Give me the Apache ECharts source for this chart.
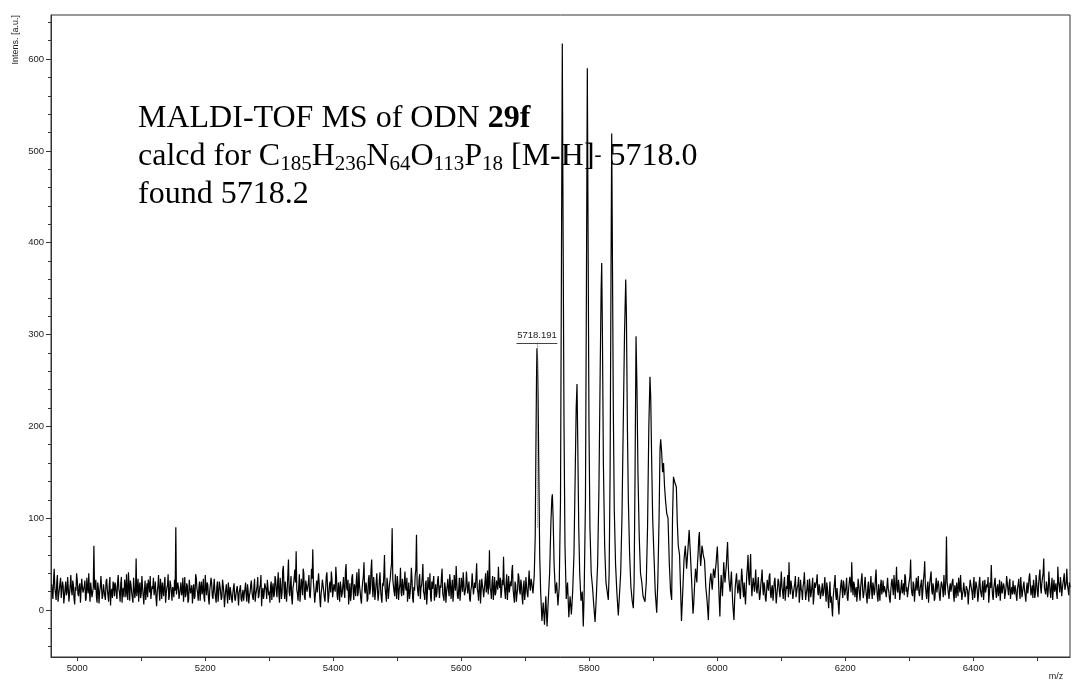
<!DOCTYPE html>
<html>
<head>
<meta charset="utf-8">
<script src="https://cdn.jsdelivr.net/npm/echarts@6/dist/echarts.min.js"></script>
<style>
  html, body { margin: 0; padding: 0; background: #fff; }
  #chart { width: 1074px; height: 681px; }
</style>
</head>
<body>
<div id="chart"></div>
<script>
// Baseline on both sides of the cluster, one sample per m/z unit
const leftStartMz = 4960;
const rightStartMz = 5962;
const sampleStep = 1;

const noiseLeft = [
  28,20, 12,33, 45,24, 18,11, 30,38, 9,17, 22,29, 35,13, 14,31, 26,7, 8,23, 31,16, 19,36, 24,9, 11,27, 38,21, 16,32, 27,12, 6,25, 21,40, 33,18, 15,26, 29,8, 10,34, 25,19,
  17,26, 32,10, 13,35, 24,18, 40,21, 9,30, 28,14, 19,24, 70,25, 22,33, 14,8, 30,24, 7,19, 25,37, 36,12, 16,28, 21,15, 11,31, 34,22, 20,9, 27,36, 5,20, 23,13, 31,27, 15,30,
  26,17, 12,30, 38,23, 19,9, 29,36, 8,21, 24,14, 33,27, 14,39, 20,11, 41,26, 10,32, 27,19, 17,8, 35,24, 13,20, 56,15, 22,34, 9,26, 30,13, 18,37, 25,16, 6,22, 32,11, 21,29,
  14,33, 28,19, 37,12, 11,26, 23,35, 16,22, 31,13, 4,20, 26,38, 19,10, 34,24, 12,30, 21,15, 29,36, 8,18, 24,27, 39,11, 15,32, 27,20, 10,25, 22,14, 33,21, 90,17, 18,30, 25,12,
  13,24, 30,16, 20,35, 9,22, 36,14, 17,29, 26,8, 11,33, 32,18, 22,27, 7,20, 28,12, 15,39, 35,23, 19,10, 24,31, 10,25, 31,17, 21,34, 14,9, 38,26, 16,30, 27,13, 6,21, 23,35,
  29,15, 12,24, 34,20, 18,8, 25,31, 9,17, 31,26, 20,11, 14,33, 27,19, 3,14, 22,28, 16,7, 30,21, 11,25, 19,13, 8,18, 24,29, 13,10, 17,23, 26,16, 5,19, 21,27, 12,9, 18,22,
  10,18, 23,30, 15,9, 28,21, 7,16, 19,27, 32,20, 14,11, 25,34, 9,17, 21,26, 36,13, 16,24, 27,38, 4,19, 24,12, 18,29, 30,22, 12,33, 35,16, 20,8, 26,31, 11,23, 29,14, 17,37,
  33,21, 14,29, 41,17, 8,35, 26,12, 19,43, 48,25, 12,31, 30,9, 22,38, 55,20, 15,27, 37,13, 6,24, 28,36, 44,30, 64,22, 18,10, 25,39, 9,19, 34,28, 16,45, 40,14, 11,32, 27,20,
  20,29, 38,16, 13,27, 45,34, 66,30, 21,8, 10,24, 32,19, 17,40, 29,12, 3,18, 24,33, 35,21, 14,9, 22,36, 41,25, 8,15, 27,31, 19,42, 33,14, 12,28, 26,20, 47,35, 16,11, 30,23,
  9,31, 25,14, 18,27, 36,20, 13,42, 50,24, 21,33, 6,17, 29,10, 16,35, 39,22, 11,28, 24,15, 32,41, 15,19, 45,26, 20,12, 7,23, 31,37, 52,21, 18,30, 26,9, 12,34, 38,17, 23,44,
  55,26, 14,36, 28,11, 19,30, 40,23, 10,18, 33,41, 22,13, 8,29, 26,38, 60,24, 17,9, 35,27, 12,21, 29,34, 44,50, 89,33, 31,20, 15,39, 24,12, 37,28, 11,22, 27,46, 19,15, 34,25,
  16,30, 42,24, 21,35, 9,19, 30,12, 18,27, 46,33, 13,8, 25,21, 38,44, 82,28, 20,15, 33,39, 12,24, 27,36, 50,20, 17,11, 29,32, 6,18, 36,26, 22,40, 14,9, 31,23, 24,37, 10,19,
  28,14, 19,32, 37,22, 13,27, 24,36, 45,18, 16,10, 30,25, 8,20, 26,34, 21,15, 39,29, 12,23, 33,9, 18,38, 27,21, 48,30, 15,12, 23,35, 10,19, 35,28, 20,41, 29,16, 14,24, 42,31,
  18,25, 31,12, 9,22, 26,40, 38,17, 15,30, 24,36, 51,23, 19,10, 28,33, 7,20, 34,27, 22,14, 13,31, 40,19, 25,43, 17,28, 65,24, 21,12, 30,37, 11,21, 36,16, 19,32, 27,22, 47,29,
  24,35, 13,20, 33,27, 58,30, 20,12, 29,39, 11,24, 37,19, 18,31, 26,42, 49,22, 15,8, 31,27, 9,17, 23,40, 36,21, 17,33, 28,14, 6,25, 32,11, 19,36, 25,18, 14,30, 43,26, 21,34
];

// [m/z, intensity] through the [M-H]- peak and its adduct series
const clusterPoints = [
  [5710, 30], [5712, 18], [5714, 38], [5715.5, 80], [5716.5, 170], [5717.5, 250],
  [5718.191, 285], [5719, 276], [5720, 230], [5721.4, 133], [5722.5, 60], [5724, 20],
  [5726, -12], [5728, 8], [5730, -16], [5732, 15], [5734, -18], [5736, 12],
  [5738, 40], [5740, 95], [5741.5, 122], [5742.3, 126], [5743.5, 100], [5745, 50],
  [5747, 18], [5749, 30], [5751, 5], [5753, 25], [5755, 120], [5756.5, 380],
  [5757.8, 617], [5759, 420], [5760.5, 200], [5762, 70], [5764, 12], [5766, 30],
  [5768, -8], [5770, 15], [5772, -5], [5774, 20], [5776, 60], [5778, 150],
  [5779.5, 220], [5780.8, 246], [5782, 180], [5783.5, 90], [5785, 40], [5787, 10],
  [5789, 20], [5790.6, -18], [5792, 20], [5794, 120], [5795.5, 350], [5796.9, 590],
  [5798, 420], [5799.5, 200], [5801, 90], [5803, 40], [5805, 25], [5807, 5],
  [5809, -13], [5811, 15], [5813, 50], [5815, 130], [5817, 260], [5818.5, 350],
  [5819.4, 378], [5820.5, 300], [5822, 160], [5824, 70], [5826, 30], [5828, 20],
  [5829.7, 11], [5831, 40], [5832.5, 150], [5834, 380], [5835, 519], [5836, 400],
  [5837.5, 220], [5839, 110], [5841, 50], [5843, 20], [5845.3, -6], [5847, 15],
  [5849, 40], [5851, 100], [5853, 200], [5855, 300], [5856.9, 360], [5858, 320],
  [5859.5, 200], [5861, 120], [5863, 60], [5865, 25], [5867, 10], [5868.8, 2],
  [5870, 30], [5871.5, 150], [5873, 298], [5874.5, 240], [5876, 150], [5878, 80],
  [5880, 40], [5882, 30], [5884, 15], [5887, 9], [5889, 30], [5891, 90],
  [5893, 200], [5894.8, 254], [5896, 230], [5897.5, 160], [5899, 100], [5901, 60],
  [5903, 20], [5905.3, -3], [5907, 30], [5909, 100], [5910.5, 175], [5911.5, 186],
  [5913, 172], [5914.5, 150], [5916, 160], [5917.5, 135], [5919, 120], [5921, 105],
  [5923, 100], [5925, 50], [5927, 20], [5928.7, 11], [5930, 100], [5931.5, 145],
  [5932.3, 147], [5934, 138], [5936, 134], [5937.5, 95], [5939, 70], [5941, 60],
  [5942.5, 25], [5944, -12], [5946, 20], [5948, 55], [5950, 70], [5952, 45],
  [5954, 65], [5956, 87], [5958, 60], [5960, 30]
];

const noiseRight = [
  -4,5, 20,34, 45,38, 30,50, 62,78, 85,60, 48,58, 70,66, 60,57, 54,40, 25,18, 10,0, -11,12, 28,35, 40,30, 22,33, 45,41, 35,44, 50,60, 69,52, 30,10, -7,20, 38,27, 15,33, 52,40,
  30,40, 48,62, 74,50, 35,27, 20,31, 42,25, 8,-2, -11,10, 25,33, 40,28, 18,24, 33,20, 12,29, 45,36, 22,14, 30,18, 6,22, 38,47, 60,35, 27,43, 61,30, 15,26, 35,28, 20,31, 44,23,
  18,27, 36,22, 11,17, 28,35, 44,24, 16,30, 25,13, 9,21, 33,26, 21,37, 40,18, 13,24, 27,10, 19,31, 35,22, 7,16, 24,34, 31,20, 14,28, 42,25, 20,12, 29,36, 10,19, 26,23, 38,14,
  52,26, 17,32, 30,21, 12,19, 24,29, 37,14, 15,25, 28,36, 8,17, 33,23, 20,11, 26,30, 41,24, 11,18, 23,33, 18,9, 34,26, 14,20, 27,35, 6,15, 30,24, 22,31, 39,19, 16,28, 25,12,
  12,22, 29,15, 19,27, 36,18, 9,30, 24,11, 2,20, 31,8, 15,3, -7,14, 22,29, 38,17, 11,24, 26,6, -5,12, 20,28, 33,21, 13,32, 27,16, 18,25, 35,13, 10,22, 24,36, 30,19, 52,27,
  16,31, 28,14, 21,25, 9,19, 34,27, 18,10, 25,33, 40,22, 13,18, 29,36, 22,15, 7,24, 31,12, 17,28, 37,21, 12,30, 26,16, 20,35, 44,24, 15,9, 28,20, 10,27, 33,17, 23,32, 19,26,
  27,19, 14,26, 35,23, 20,12, 8,21, 30,34, 24,16, 38,27, 12,30, 47,22, 19,33, 26,11, 10,25, 33,18, 22,29, 16,39, 36,20, 25,14, 13,27, 29,37, 55,24, 18,15, 31,28, 9,20, 26,35,
  21,28, 37,18, 15,24, 28,33, 11,20, 33,39, 53,27, 19,12, 26,31, 8,22, 30,36, 42,21, 17,29, 24,10, 13,26, 35,19, 20,32, 27,15, 10,23, 31,28, 22,14, 38,25, 16,34, 80,30, 25,18,
  12,25, 29,20, 18,31, 34,16, 9,27, 23,13, 30,22, 15,35, 26,19, 38,24, 11,17, 21,30, 32,14, 17,26, 27,21, 6,18, 24,33, 35,23, 19,11, 28,36, 13,20, 31,27, 22,9, 16,29, 36,22,
  20,14, 27,32, 11,22, 33,19, 18,28, 25,36, 8,17, 30,24, 49,27, 16,11, 24,30, 35,20, 13,25, 28,15, 21,33, 10,22, 31,18, 19,29, 26,12, 14,24, 37,30, 22,16, 29,34, 12,21, 25,17,
  32,22, 17,27, 23,15, 10,24, 28,34, 19,12, 36,25, 14,20, 26,31, 21,16, 9,23, 30,18, 24,35, 40,28, 16,21, 27,13, 33,26, 13,19, 38,30, 20,14, 29,37, 44,25, 18,29, 35,40, 56,24,
  22,17, 31,26, 14,21, 42,30, 19,13, 27,35, 11,24, 33,20, 24,29, 18,12, 47,31, 26,19, 36,28, 15,23, 29,34, 40,22, 20,30, 45,27, 23,16, 30,25
];

// Labelled peak
const peakLabelMz = 5718.191;
const peakMarkerTop = 291;
const peakMarkerBottom = 90;

// Axis ticks and labels
const xTickValues = [5000, 5100, 5200, 5300, 5400, 5500, 5600, 5700, 5800, 5900, 6000, 6100, 6200, 6300, 6400, 6500];
const xLabelValues = [5000, 5200, 5400, 5600, 5800, 6000, 6200, 6400];
const yTickValues = [0, 100, 200, 300, 400, 500, 600];

const spectrum = [];
noiseLeft.forEach((v, i) => spectrum.push([leftStartMz + i * sampleStep, v]));
clusterPoints.forEach(p => spectrum.push([p[0], p[1]]));
noiseRight.forEach((v, i) => spectrum.push([rightStartMz + i * sampleStep, v]));

const sansFont = '"Liberation Sans", Arial, Helvetica, sans-serif';
const serifFont = '"Liberation Serif", "Times New Roman", Times, serif';
const axisColor = '#333';
const textColor = '#222';

const chart = echarts.init(document.getElementById('chart'), null, { renderer: 'canvas' });

chart.setOption({
  animation: false,
  backgroundColor: '#fff',
  grid: {
    left: 51, right: 4, top: 15, bottom: 24,
    show: true, borderColor: axisColor, borderWidth: 1, backgroundColor: 'transparent'
  },
  xAxis: {
    type: 'value',
    min: 4959, max: 6551,
    minInterval: 100, maxInterval: 100,
    splitLine: { show: false },
    axisLine: { show: true, onZero: false, lineStyle: { color: axisColor, width: 1 } },
    axisTick: { show: true, inside: false, length: 4, customValues: xTickValues, lineStyle: { color: axisColor } },
    axisLabel: {
      customValues: xLabelValues, margin: 6,
      formatter: v => String(v),
      fontFamily: sansFont, fontSize: 9.5, color: textColor
    }
  },
  yAxis: {
    type: 'value',
    min: -51.2, max: 648,
    minInterval: 100, maxInterval: 100,
    splitLine: { show: false },
    axisLine: { show: true, onZero: false, lineStyle: { color: axisColor, width: 1 } },
    axisTick: { show: true, inside: false, length: 5, customValues: yTickValues, lineStyle: { color: axisColor } },
    minorTick: { show: true, splitNumber: 5, length: 3, lineStyle: { color: axisColor } },
    axisLabel: {
      customValues: yTickValues, margin: 7,
      formatter: v => String(v),
      fontFamily: sansFont, fontSize: 9.5, color: textColor
    }
  },
  series: [{
    type: 'line',
    data: spectrum,
    showSymbol: false,
    symbol: 'none',
    sampling: null,
    lineStyle: { color: '#000', width: 1.2 },
    z: 2,
    markLine: {
      silent: true,
      symbol: 'none',
      animation: false,
      label: { show: false },
      data: [
        [
          { coord: [peakLabelMz, peakMarkerBottom], lineStyle: { type: [1, 1], color: '#777', width: 1 } },
          { coord: [peakLabelMz, peakMarkerTop] }
        ],
        [
          {
            coord: [peakLabelMz - 32, peakMarkerTop],
            lineStyle: { type: 'solid', color: '#444', width: 1 },
            label: {
              show: true, position: 'insideMiddleTop', distance: 2,
              formatter: peakLabelMz.toFixed(3),
              fontFamily: sansFont, fontSize: 9.5, color: textColor
            }
          },
          { coord: [peakLabelMz + 32, peakMarkerTop] }
        ]
      ]
    }
  }],
  graphic: [
    {
      type: 'text', x: 16, y: 15, rotation: Math.PI / 2, silent: true,
      style: { text: 'Intens. [a.u.]', fontFamily: sansFont, fontSize: 9, fill: textColor, align: 'right', verticalAlign: 'middle' }
    },
    {
      type: 'text', x: 1056, y: 677, silent: true,
      style: { text: 'm/z', fontFamily: sansFont, fontSize: 9, fill: textColor, align: 'center', verticalAlign: 'middle' }
    },
    {
      type: 'text', x: 138, y: 100, silent: true, z: 10,
      style: {
        text: 'MALDI-TOF MS of ODN {b|29f}\ncalcd for C{s|185}H{s|236}N{s|64}O{s|113}P{s|18} [M-H]{u|-} 5718.0\nfound 5718.2',
        fontFamily: serifFont, fontSize: 32, lineHeight: 38, fill: '#000',
        align: 'left', verticalAlign: 'top',
        rich: {
          b: { fontFamily: serifFont, fontSize: 32, fontWeight: 'bold', fill: '#000' },
          s: { fontFamily: serifFont, fontSize: 21, fill: '#000', padding: [15, 0, 0, 0] },
          u: { fontFamily: serifFont, fontSize: 21, fill: '#000', padding: [0, 0, 3, 0] }
        }
      }
    }
  ]
});
</script>
</body>
</html>
